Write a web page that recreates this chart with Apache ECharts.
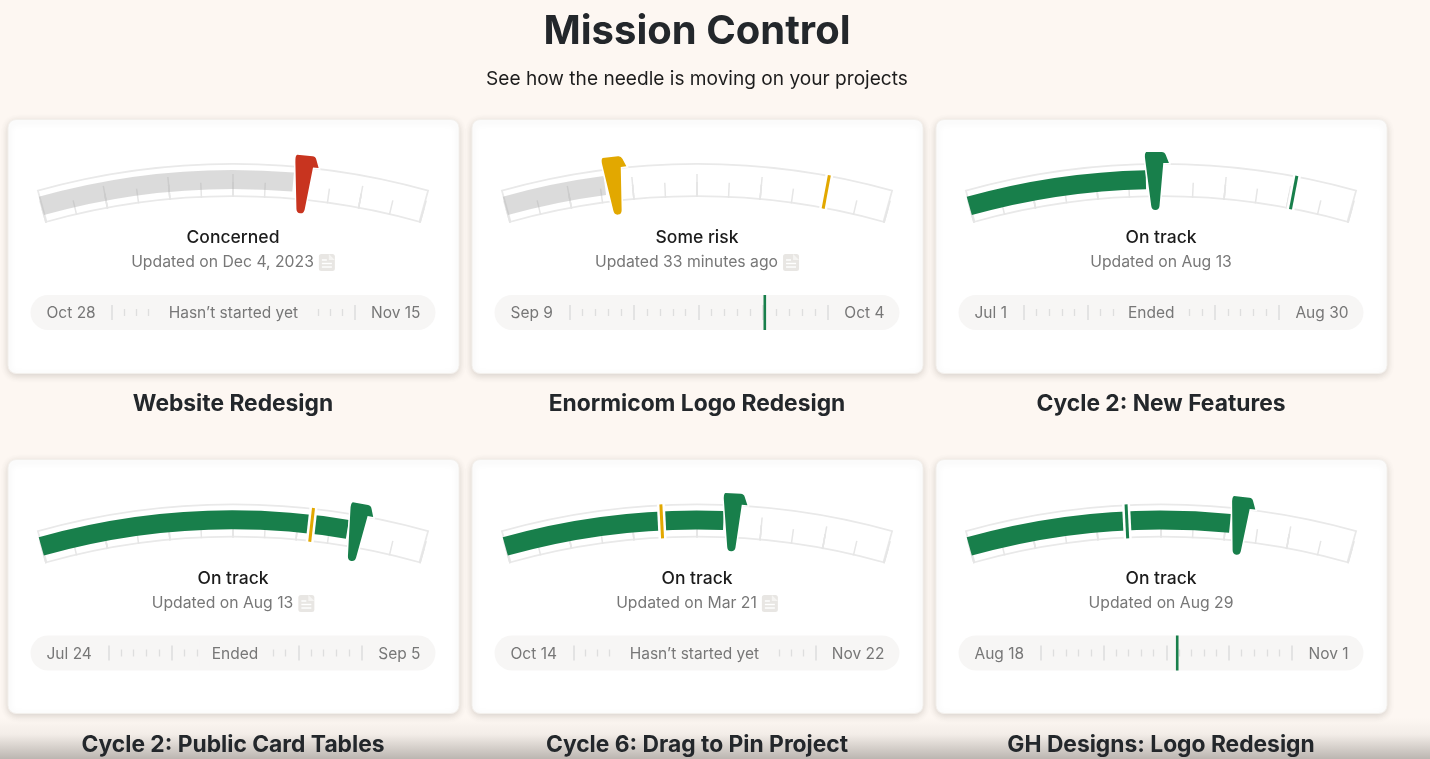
<!DOCTYPE html>
<html>
<head>
<meta charset="utf-8">
<title>Mission Control</title>
<style>
  html, body { margin: 0; padding: 0; background: #fdf7f2; }
  #main { width: 1430px; height: 759px; }
</style>
</head>
<body>
<div id="main"></div>
<script src="https://cdn.jsdelivr.net/npm/echarts@6/dist/echarts.min.js"></script>
<script>
const projects = ['Website Redesign', 'Enormicom Logo Redesign', 'Cycle 2: New Features', 'Cycle 2: Public Card Tables', 'Cycle 6: Drag to Pin Project', 'GH Designs: Logo Redesign']
const statuses = ['Concerned', 'Some risk', 'On track', 'On track', 'On track', 'On track']
const updates = ['Updated on Dec 4, 2023', 'Updated 33 minutes ago', 'Updated on Aug 13', 'Updated on Aug 13', 'Updated on Mar 21', 'Updated on Aug 29']
const hasNote = [true, true, false, true, true, false]
const startDates = ['Oct 28', 'Sep 9', 'Jul 1', 'Jul 24', 'Oct 14', 'Aug 18']
const endDates = ['Nov 15', 'Oct 4', 'Aug 30', 'Sep 5', 'Nov 22', 'Nov 1']
const timelineNotes = ['Hasn’t started yet', null, 'Ended', 'Ended', 'Hasn’t started yet', null]

// gauge readings, percent of the arc
const needleValues = [68.2, 28.8, 48.6, 82.1, 59.3, 70.4]
const progressValues = [65.5, 26.2, 46.1, 79.6, 56.8, 67.8]
const targetValues = [null, 83.5, 84.4, 70.3, 40.9, 41.2]
const targetStatuses = [null, 'Some risk', 'On track', 'Some risk', 'Some risk', 'On track']
// today on the timeline, 0 to 20 ticks
const todayValues = [null, 15.12, null, null, null, 10.87]

const COLORS = { 'Concerned': '#c8341f', 'Some risk': '#e2a800', 'On track': '#187f4b' }
const TICK = '#e6e6e6'
const PILL = '#f7f6f5'
const FONT = 'Inter, "Noto Sans", sans-serif'
const NEEDLE = 'path://M2,0 L17,0 Q20,0 21,3 L24,11 L18.5,11 L14.5,54 Q14,58 10.5,58 Q7,58 6.5,54 L1,8 Q0,1 2,0 Z'

const ARC_START = 105.7
const ARC_END = 74.3
const cardX = [8, 472, 936]
const cardY = [119.5, 459.5]
const CARD_W = 451
const CARD_H = 254

const measure = document.createElement('canvas').getContext('2d')
function textWidth (str, font) {
  measure.font = font
  return measure.measureText(str).width
}

function baseGauge (cx, cy, radius, z) {
  return {
    type: 'gauge',
    silent: true,
    animation: false,
    center: [cx, cy],
    radius,
    z,
    startAngle: ARC_START,
    endAngle: ARC_END,
    min: 0,
    max: 100,
    axisLine: { show: false, lineStyle: { width: 0 } },
    axisTick: { show: false },
    splitLine: { show: false },
    axisLabel: { show: false },
    pointer: { show: false },
    anchor: { show: false },
    title: { show: false },
    detail: { show: false },
    data: [{ value: 0 }]
  }
}

// a pointer on the arc, with a white halo layer behind it
function pointerLayers (cx, cy, z, pointer, color, value, halo) {
  return [
    Object.assign(baseGauge(cx, cy, 725, z), {
      pointer,
      itemStyle: { color: '#fff', borderColor: '#fff', borderWidth: halo },
      data: [{ value }]
    }),
    Object.assign(baseGauge(cx, cy, 725, z + 1), {
      pointer,
      itemStyle: { color },
      data: [{ value }]
    })
  ]
}

function gaugeLayers (i, cx, cy) {
  const color = COLORS[statuses[i]]
  const band = statuses[i] === 'On track' ? color : 'rgba(170,170,170,0.42)'
  const layers = []
  // outline
  layers.push(Object.assign(baseGauge(cx, cy, 725, 1), {
    axisLine: { show: true, lineStyle: { width: 34, color: [[1, '#e9e9e9']] } }
  }))
  layers.push(Object.assign(baseGauge(cx, cy, 723.3, 2), {
    startAngle: ARC_START - 0.14,
    endAngle: ARC_END + 0.14,
    axisLine: { show: true, lineStyle: { width: 30.6, color: [[1, '#fff']] } }
  }))
  // ticks grow from the inner edge
  layers.push(Object.assign(baseGauge(cx, cy, 714, 3), {
    splitNumber: 6,
    splitLine: { show: true, length: 23, distance: 0, lineStyle: { color: TICK, width: 1.5 } },
    axisTick: { show: true, splitNumber: 2, length: 15, distance: 8, lineStyle: { color: TICK, width: 1.5 } }
  }))
  layers.push(Object.assign(baseGauge(cx, cy, 718, 4), {
    progress: { show: true, width: 19, itemStyle: { color: band } },
    data: [{ value: progressValues[i] }]
  }))
  if (targetValues[i] !== null) {
    layers.push(...pointerLayers(cx, cy, 5, {
      show: true, icon: 'rect', width: 3, length: 34, offsetCenter: [0, -691]
    }, COLORS[targetStatuses[i]], targetValues[i], 5))
  }
  layers.push(...pointerLayers(cx, cy, 7, {
    show: true, icon: NEEDLE, width: 24, length: 58, offsetCenter: [1.5, -678]
  }, color, needleValues[i], 3))
  return layers
}

function label (x, y, text, font, fill, align) {
  return {
    type: 'text',
    x,
    y,
    z: 20,
    silent: true,
    style: { text, font, fill, textAlign: align || 'center', textVerticalAlign: 'middle' }
  }
}

function noteIcon (x, y) {
  const line = (x1, y1, x2) => ({
    type: 'line',
    z: 21,
    shape: { x1: x + x1, y1: y + y1, x2: x + x2, y2: y + y1 },
    style: { stroke: '#fff', lineWidth: 1.4 }
  })
  return [{
    type: 'rect',
    z: 20,
    shape: { x, y, width: 16, height: 17, r: 2.5 },
    style: { fill: '#e8e6e3' }
  }, {
    type: 'polygon',
    z: 21,
    shape: { points: [[x + 10, y], [x + 16, y + 6], [x + 10, y + 6]] },
    style: { fill: '#f5f4f2' }
  }, line(3, 6, 8), line(3, 9.5, 13), line(3, 13, 13)]
}

const graphics = []
const grids = []
const xAxes = []
const yAxes = []
const series = []

graphics.push(label(697, 31.5, 'Mission Control', '700 40px ' + FONT, '#23272b'))
graphics.push(label(697, 79, 'See how the needle is moving on your projects', '400 19.1px ' + FONT, '#1d1d1d'))
graphics.push({
  type: 'rect',
  z: 10,
  shape: { x: 0, y: 718, width: 1430, height: 41 },
  style: {
    fill: new echarts.graphic.LinearGradient(0, 0, 0, 1, [
      { offset: 0, color: 'rgba(110,105,100,0)' },
      { offset: 0.4, color: 'rgba(110,105,100,0.07)' },
      { offset: 1, color: 'rgba(110,105,100,0.46)' }
    ])
  }
})

projects.forEach((name, i) => {
  const col = i % 3
  const row = Math.floor(i / 3)
  const left = cardX[col]
  const top = cardY[row]
  const cx = left + CARD_W / 2 - 0.5
  const shift = row * 340.5
  const textShift = row * 341

  graphics.push({
    type: 'rect',
    z: -3,
    shape: { x: left, y: top, width: CARD_W, height: CARD_H, r: 8 },
    style: { fill: '#fff', stroke: '#f3f0ec', lineWidth: 1, shadowBlur: 7, shadowOffsetY: 2, shadowColor: 'rgba(50,40,30,0.17)' }
  })

  series.push(...gaugeLayers(i, cx, 888 + shift))

  graphics.push(label(cx, 238 + textShift, statuses[i], '500 17.5px ' + FONT, '#1c1c1c'))
  const updateFont = '400 15.75px ' + FONT
  if (hasNote[i]) {
    const w = textWidth(updates[i], updateFont)
    const x0 = cx - (w + 21) / 2
    graphics.push(label(x0, 262.5 + textShift, updates[i], updateFont, '#777', 'left'))
    graphics.push(...noteIcon(x0 + w + 5, 254 + textShift))
  } else {
    graphics.push(label(cx, 262.5 + textShift, updates[i], updateFont, '#777'))
  }

  // timeline pill
  const pillLeft = cx - 202.5
  const pillTop = 295 + shift
  graphics.push({
    type: 'rect',
    z: -2,
    shape: { x: pillLeft, y: pillTop, width: 405, height: 35, r: 17.5 },
    style: { fill: PILL }
  })
  const dateFont = '400 15.5px ' + FONT
  const trackLeft = pillLeft + 16 + textWidth(startDates[i], dateFont) + 16.5
  const trackRight = pillLeft + 405 - 15 - textWidth(endDates[i], dateFont) - 16.5
  graphics.push(label(pillLeft + 16, 313.5 + textShift, startDates[i], dateFont, '#777', 'left'))
  graphics.push(label(pillLeft + 405 - 15, 313.5 + textShift, endDates[i], dateFont, '#777', 'right'))

  grids.push({ left: trackLeft, width: trackRight - trackLeft, top: pillTop + 10, height: 15 })
  xAxes.push({
    type: 'value',
    gridIndex: i,
    position: 'top',
    offset: -4,
    min: 0,
    max: 20,
    interval: 5,
    axisLine: { show: false, onZero: false },
    axisLabel: { show: false },
    axisTick: { show: false, inside: true },
    minorTick: { show: true, splitNumber: 5, length: 7, lineStyle: { color: '#dedede', width: 1.3 } },
    splitLine: { show: true, lineStyle: { color: '#dcdcdc', width: 1.5 } }
  })
  yAxes.push({ type: 'value', gridIndex: i, min: 0, max: 1, show: false })

  if (timelineNotes[i]) {
    const midX = (trackLeft + trackRight) / 2
    const w = textWidth(timelineNotes[i], dateFont) + 24
    graphics.push({
      type: 'rect',
      z: 19,
      shape: { x: midX - w / 2, y: pillTop + 5, width: w, height: 25 },
      style: { fill: PILL }
    })
    graphics.push(label(midX, 313.5 + textShift, timelineNotes[i], dateFont, '#777'))
  }
  if (todayValues[i] !== null) {
    series.push({
      type: 'scatter',
      silent: true,
      animation: false,
      clip: false,
      xAxisIndex: i,
      yAxisIndex: i,
      symbol: 'rect',
      symbolSize: [2.6, 35],
      itemStyle: { color: COLORS['On track'], opacity: 1 },
      data: [[todayValues[i], 0.5]]
    })
  }

  graphics.push(label(cx, 403.7 + textShift, name, '700 22.8px ' + FONT, '#23272b'))
})

const myChart = echarts.init(document.getElementById('main'))
myChart.setOption({
  backgroundColor: '#fdf7f2',
  animation: false,
  grid: grids,
  xAxis: xAxes,
  yAxis: yAxes,
  graphic: { elements: graphics },
  series
})
</script>
</body>
</html>
